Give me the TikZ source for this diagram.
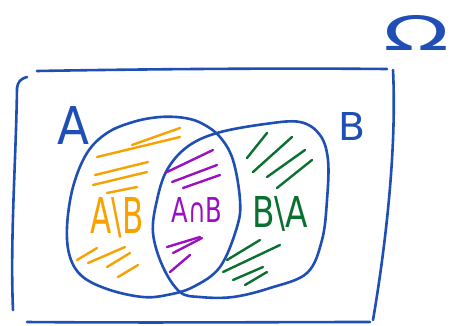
\documentclass[tikz,border=0pt]{standalone}
\usepackage{fontspec}
\setmainfont{DejaVu Sans}
\usepackage{graphicx}
\definecolor{pen}{RGB}{31,78,180}
\definecolor{org}{RGB}{247,162,0}
\definecolor{pur}{RGB}{155,16,192}
\definecolor{grn}{RGB}{10,112,50}
\tikzset{
  stroke/.style={draw=pen, line width=2.6pt, line cap=round, line join=round},
  hatch/.style={line width=2.4pt, line cap=round},
  lab/.style={inner sep=0pt, outer sep=0pt},
}
\begin{document}
\begin{tikzpicture}[x=1pt,y=-1pt]
\useasboundingbox (0,0) rectangle (452,325);
% universe box
\draw[stroke] (37,71) .. controls (150,69) and (280,68) .. (387,69);
\draw[stroke] (27,77) .. controls (20,79) and (18,82) .. (17,88) .. controls (16,160) and (10,240) .. (13,310);
\draw[stroke] (393,70) .. controls (397,150) and (385,250) .. (373,320);
\draw[stroke] (27,322) .. controls (150,323) and (280,322) .. (370,322);
% set A
\draw[stroke] plot[smooth cycle, tension=0.6] coordinates {(185,118) (160,117) (133,122) (107,133) (87,153) (73,187) (67,227) (70,257) (83,277) (110,290) (143,297) (167,295) (193,287) (220,267) (237,227) (240,200) (233,160) (220,137) (203,124)};
% set B
\draw[stroke] plot[smooth cycle, tension=0.6] coordinates {(153,233) (157,200) (167,170) (187,147) (217,133) (265,124) (300,122) (320,135) (328,160) (327,200) (322,240) (307,273) (270,288) (233,297) (200,297) (180,292) (163,267)};
% hatching orange
\draw[hatch, org] (132,145) -- (180,128);
\draw[hatch, org] (97,157) -- (180,137);
\draw[hatch, org] (95,175) -- (148,162);
\draw[hatch, org] (93,185) -- (147,172);
\draw[hatch, org] (107,193) -- (137,187);
\draw[hatch, org] (77,260) -- (97,248);
\draw[hatch, org] (88,263) -- (125,247);
\draw[hatch, org] (107,267) -- (130,253);
\draw[hatch, org] (118,277) -- (138,265);
% hatching purple
\draw[hatch, pur] (167,172) -- (213,150);
\draw[hatch, pur] (172,182) -- (217,165);
\draw[hatch, pur] (183,188) -- (220,175);
\draw[hatch, pur] (167,247) -- (200,237);
\draw[hatch, pur] (173,253) -- (202,238);
\draw[hatch, pur] (170,272) -- (190,255);
% hatching green
\draw[hatch, grn] (247,158) -- (267,133);
\draw[hatch, grn] (253,172) -- (292,137);
\draw[hatch, grn] (267,177) -- (305,150);
\draw[hatch, grn] (277,188) -- (312,160);
\draw[hatch, grn] (227,260) -- (260,240);
\draw[hatch, grn] (223,272) -- (280,245);
\draw[hatch, grn] (233,280) -- (263,267);
\draw[hatch, grn] (245,285) -- (267,272);
% labels
\node[lab, text=pen] (omega) at (416,33) {\resizebox{66pt}{35pt}{Ω}};
\node[lab, text=pen] (labA) at (74,125) {\resizebox{32pt}{38pt}{A}};
\node[lab, text=pen] (labB) at (352,126) {\resizebox{27pt}{28pt}{B}};
\node[lab, text=org] (amb) at (117,218) {\resizebox{53pt}{36pt}{A\textbackslash B}};
\node[lab, text=pur] (aib) at (197,210) {\resizebox{51pt}{25pt}{A∩B}};
\node[lab, text=grn] (bma) at (280,214) {\resizebox{56pt}{31pt}{B\textbackslash A}};
\end{tikzpicture}
\end{document}
